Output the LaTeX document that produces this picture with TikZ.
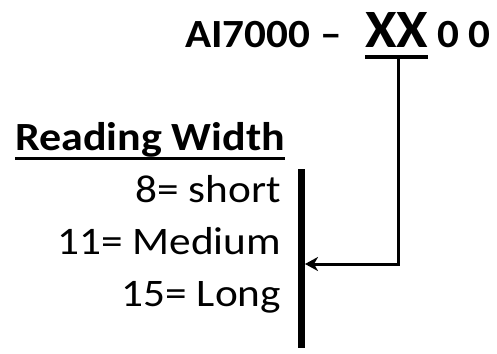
\documentclass[tikz,border=0pt]{standalone}
\usepackage{fontspec}
\setmainfont{Carlito}
\usetikzlibrary{arrows.meta}
\tikzset{
  lbl/.style={inner sep=0pt, outer sep=0pt},
  conn/.style={line width=3pt},
  ttl/.style={lbl, anchor=base west, font=\fontsize{40}{44}\selectfont\bfseries},
  item/.style={lbl, anchor=base east, font=\fontsize{39}{44}\selectfont},
}
\newcommand{\wide}[2]{\scalebox{#1}[1]{#2}}
\begin{document}
\begin{tikzpicture}[x=1pt,y=-1pt]
\useasboundingbox (0,0) rectangle (497,353);
\node[ttl] (pre) at (185,48) {\wide{1.08}{AI7000 --}};
\node[lbl, anchor=base west, font=\fontsize{54}{58}\selectfont\bfseries] (xx) at (365,48) {\wide{1.06}{XX}};
\node[ttl] (post) at (437,48) {\wide{1.08}{0 0}};
\draw[line width=3.5pt] ([yshift=-9pt]xx.base west) -- ([yshift=-9pt]xx.base east);
\coordinate (stem) at ([xshift=2pt,yshift=-11pt]xx.base);
\node[lbl, anchor=base west, font=\fontsize{40}{44}\selectfont\bfseries] (rw) at (15,150) {\wide{1.1}{Reading Width}};
\draw[line width=3pt] ([yshift=-8pt]rw.base west) -- ([yshift=-8pt]rw.base east);
\node[item] (i8) at (281,202) {\wide{1.11}{8= short}};
\node[item] (i11) at (281,254) {\wide{1.11}{11= Medium}};
\node[item] (i15) at (281,306) {\wide{1.11}{15= Long}};
\coordinate (bartop) at (301.5,169);
\coordinate (barbot) at (301.5,348);
\draw[line width=7pt] (bartop) -- (barbot);
\coordinate (hit) at (305,264);
\draw[conn, -{Stealth[length=13pt,width=14pt,inset=4pt]}] (stem) |- (hit);
\end{tikzpicture}
\end{document}
